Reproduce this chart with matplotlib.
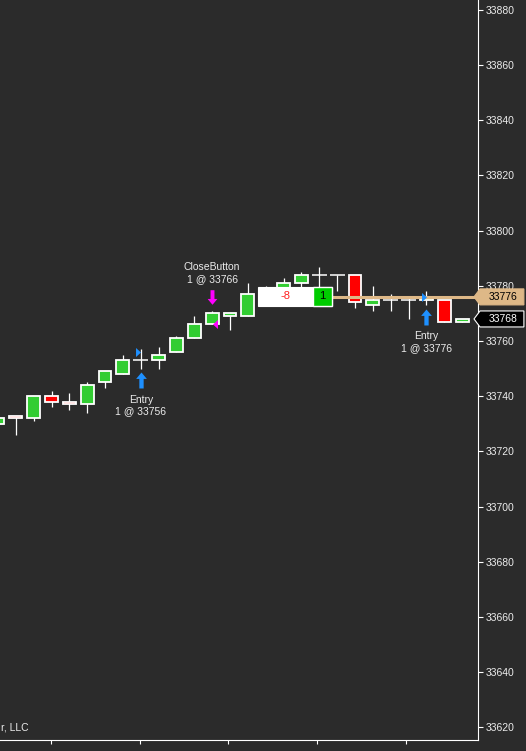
import matplotlib
matplotlib.use("Agg")
import matplotlib.pyplot as plt
from matplotlib.patches import Rectangle, Polygon
from matplotlib.path import Path
from matplotlib.transforms import offset_copy, blended_transform_factory

plt.rcParams['font.family'] = ['Liberation Sans', 'DejaVu Sans']

# candles (YM, 1 pt ticks)
opens  = [33730, 33733, 33732, 33740, 33738, 33737, 33745, 33748, 33753, 33753,
          33756, 33761, 33766, 33769, 33769, 33777, 33778, 33781, 33784, 33784,
          33784, 33773, 33775, 33775, 33775, 33775, 33767]
highs  = [33732, 33733, 33740, 33742, 33741, 33745, 33749, 33755, 33757, 33758,
          33762, 33769, 33771, 33770, 33781, 33780, 33783, 33785, 33787, 33784,
          33784, 33780, 33777, 33776, 33778, 33775, 33768]
lows   = [33730, 33726, 33731, 33736, 33735, 33734, 33743, 33748, 33750, 33750,
          33756, 33761, 33766, 33764, 33769, 33775, 33776, 33779, 33779, 33778,
          33772, 33771, 33771, 33768, 33773, 33767, 33767]
closes = [33732, 33732, 33740, 33738, 33737, 33744, 33749, 33753, 33753, 33755,
          33761, 33766, 33770, 33770, 33777, 33779, 33781, 33784, 33784, 33784,
          33774, 33775, 33775, 33775, 33776, 33767, 33768]

entry_bars = [8, 24]
entry_prices = [33756, 33776]
exit_bars = [12]
exit_prices = [33766]
exit_names = ["CloseButton"]

position_price = 33776
last_price = 33768
pnl_text = "-8"
qty_text = "1"

y_ticks = list(range(33620, 33881, 20))
x_ticks = [2.97, 7.94, 12.9, 17.87, 22.84]

BG = '#2b2b2b'
UP = '#32cd32'
DOWN = '#ff0000'
TXT = '#ececec'
BLUE = '#1e90ff'
MAG = '#ff00ff'
TAN = '#deb887'

fig = plt.figure(figsize=(5.26, 7.51), dpi=100, facecolor=BG)
ax = fig.add_axes([0, 11 / 751, 478 / 526, 740 / 751])
ax.set_facecolor(BG)
ax.set_xlim(0.115, 26.89)
ax.set_ylim(33615.4, 33883.6)

for i in range(len(opens)):
    o, h, l, c = opens[i], highs[i], lows[i], closes[i]
    ax.vlines(i, l, h, color='white', lw=0.9, zorder=2)
    if o == c:
        ax.hlines(c, i - 0.42, i + 0.42, color='white', lw=1.1, zorder=3)
    else:
        col = UP if c > o else DOWN
        ax.add_patch(Rectangle((i - 0.36, min(o, c)), 0.72, abs(c - o),
                               facecolor=col, edgecolor='white', lw=1.3, zorder=3))

# chart trader position box
box_l, box_m, box_r = 14.57, 17.65, 18.71
ax.add_patch(Rectangle((box_l, position_price - 3.3), box_r - box_l, 6.9,
                       facecolor='white', edgecolor='white', lw=0.8, zorder=5))
ax.add_patch(Rectangle((box_m, position_price - 3.3), box_r - box_m, 6.9,
                       facecolor='#00cc00', edgecolor='white', lw=1.0, zorder=6))
ax.text((box_l + box_m) / 2, position_price + 0.2, pnl_text, color='#ff2020',
        fontsize=8, ha='center', va='center', zorder=7)
ax.text((box_m + box_r) / 2, position_price + 0.2, qty_text, color='black',
        fontsize=8, ha='center', va='center', zorder=7)
ax.hlines(position_price, box_r, 26.9, color=TAN, lw=2.2, zorder=4)

# arrow markers
up_arrow = Path([(0, 1), (0.67, 0.2), (0.27, 0.2), (0.27, -1), (-0.27, -1),
                 (-0.27, 0.2), (-0.67, 0.2), (0, 1)], closed=True)
down_arrow = Path([(x, -y) for x, y in up_arrow.vertices], closed=True)
tri_r = Path([(0.55, 0), (-0.55, -1), (-0.55, 1), (0.55, 0)], closed=True)
tri_l = Path([(-0.55, 0), (0.55, -1), (0.55, 1), (-0.55, 0)], closed=True)

for b, p in zip(entry_bars, entry_prices):
    low = lows[b]
    ax.plot(b, low, marker=up_arrow, ms=11.5, color=BLUE, mew=0, zorder=8,
            transform=offset_copy(ax.transData, fig, y=-11.5, units='dots'))
    ax.plot(b, p, marker=tri_r, ms=6.5, color=BLUE, mew=0, zorder=8,
            transform=offset_copy(ax.transData, fig, x=-2.5, units='dots'))
    ax.text(b, low, "Entry", color=TXT, fontsize=7.5, ha='center', va='center',
            transform=offset_copy(ax.transData, fig, y=-31, units='dots'))
    ax.text(b, low, "1 @ %d" % p, color=TXT, fontsize=7.5, ha='center', va='center',
            transform=offset_copy(ax.transData, fig, y=-43, units='dots'))

for b, p, name in zip(exit_bars, exit_prices, exit_names):
    high = highs[b]
    ax.plot(b, high, marker=down_arrow, ms=10.5, color=MAG, mew=0, zorder=8,
            transform=offset_copy(ax.transData, fig, y=13.5, units='dots'))
    ax.plot(b, p, marker=tri_l, ms=6.5, color=MAG, mew=0, zorder=8,
            transform=offset_copy(ax.transData, fig, x=3.3, units='dots'))
    ax.text(b, high, "1 @ %d" % p, color=TXT, fontsize=7.5, ha='center', va='center',
            transform=offset_copy(ax.transData, fig, y=31.5, units='dots'))
    ax.text(b, high, name, color=TXT, fontsize=7.5, ha='center', va='center',
            transform=offset_copy(ax.transData, fig, y=43.5, units='dots'))

# price labels on the axis
blend = blended_transform_factory(ax.transAxes, ax.transData)
def price_tag(price, face, edge, tcol):
    hh = 2.9
    pts = [(0.9916, price), (1.0042, price + hh), (1.096, price + hh),
           (1.096, price - hh), (1.0042, price - hh)]
    ax.add_patch(Polygon(pts, closed=True, transform=blend, facecolor=face,
                         edgecolor=edge, lw=0.8, clip_on=False, zorder=10))
    ax.text(1.0533, price, "%d" % price, transform=blend, color=tcol, fontsize=7.5,
            ha='center', va='center', clip_on=False, zorder=11)

price_tag(position_price, TAN, TAN, 'black')
price_tag(last_price, 'black', 'white', 'white')

# axes styling
for s in ['top', 'left']:
    ax.spines[s].set_visible(False)
for s in ['right', 'bottom']:
    ax.spines[s].set_color('white')
    ax.spines[s].set_linewidth(0.8)
ax.yaxis.tick_right()
ax.set_yticks(y_ticks)
ax.set_yticklabels([str(v) for v in y_ticks])
ax.set_xticks(x_ticks)
ax.set_xticklabels([])
ax.tick_params(axis='y', colors='white', labelcolor=TXT, labelsize=7.5,
               length=3.6, width=0.8, pad=2.2)
ax.tick_params(axis='x', colors='white', length=3, width=0.8)

# copyright line (only its tail is visible in the reference)
fig.text(1 / 526, 24 / 751, "r, LLC", color=TXT,
         fontsize=7.5, ha='left', va='center')

fig.savefig("out.png", dpi=100, facecolor=BG)
